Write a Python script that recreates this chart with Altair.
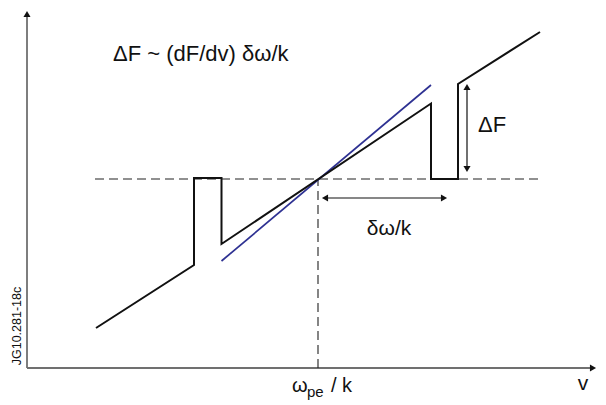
import altair as alt
import pandas as pd

# diagram units: v measured from the vertical axis, F from the horizontal axis
black_v = [69, 167, 167, 194.5, 194.5, 404, 404, 431, 431, 513]
black_F = [40, 103, 190, 190, 124, 264.5, 189, 189, 284, 336]

blue_v = [194.5, 404]
blue_F = [107, 283]

level_F = 189          # dashed plateau level
centre_v = 291         # omega_pe / k
dash_h_v = [68, 516]
dash_v_F = [0, 189]

# axes (line end, arrow head centre)
x_axis_v = [0, 566]
y_axis_F = [0, 354]

# double arrows
dF_v = 440
dF_F = [281, 199]
dw_F = 170
dw_v = [298, 417]

FONT = "Liberation Sans"
X_DOM = [-19, 571]
Y_DOM = [-37, 360]


def enc(v="v", F="F"):
    return dict(
        x=alt.X(f"{v}:Q", scale=alt.Scale(domain=X_DOM, nice=False, zero=False), axis=None),
        y=alt.Y(f"{F}:Q", scale=alt.Scale(domain=Y_DOM, nice=False, zero=False), axis=None),
    )


black = pd.DataFrame({"v": black_v, "F": black_F, "i": range(len(black_v))})
blue = pd.DataFrame({"v": blue_v, "F": blue_F})
dash_h = pd.DataFrame({"v": dash_h_v, "F": [level_F, level_F]})
dash_v = pd.DataFrame({"v": [centre_v, centre_v], "F": dash_v_F})
x_axis = pd.DataFrame({"v": x_axis_v, "F": [0, 0]})
y_axis = pd.DataFrame({"v": [0, 0], "F": y_axis_F})
dF_line = pd.DataFrame({"v": [dF_v, dF_v], "F": dF_F})
dw_line = pd.DataFrame({"v": dw_v, "F": [dw_F, dw_F]})

heads = pd.DataFrame({
    "v": [x_axis_v[1], 0, dF_v, dF_v, dw_v[0], dw_v[1]],
    "F": [0, y_axis_F[1], dF_F[0], dF_F[1], dw_F, dw_F],
    "shape": ["triangle-right", "triangle-up", "triangle-up", "triangle-down",
              "triangle-left", "triangle-right"],
})

layers = []

# axes
layers.append(alt.Chart(x_axis).mark_line(color="#707070", strokeWidth=1.8).encode(**enc()))
layers.append(alt.Chart(y_axis).mark_line(color="#707070", strokeWidth=1.8).encode(**enc()))

# dashed guides
layers.append(alt.Chart(dash_h).mark_line(color="#222222", strokeWidth=1.1, strokeDash=[9, 5]).encode(**enc()))
layers.append(alt.Chart(dash_v).mark_line(color="#222222", strokeWidth=1.1, strokeDash=[9, 5]).encode(**enc()))

# curves
layers.append(alt.Chart(blue).mark_line(color="#2e3192", strokeWidth=1.7).encode(**enc()))
layers.append(alt.Chart(black).mark_line(color="#111111", strokeWidth=2, strokeJoin="miter").encode(
    order=alt.Order("i:Q"), **enc()))

# arrows
layers.append(alt.Chart(dF_line).mark_line(color="#111111", strokeWidth=1.2).encode(**enc()))
layers.append(alt.Chart(dw_line).mark_line(color="#111111", strokeWidth=1.2).encode(**enc()))
layers.append(alt.Chart(heads).mark_point(filled=True, color="#111111", size=50, opacity=1).encode(
    shape=alt.Shape("shape:N", scale=None), **enc()))


def label(txt, v, F, size, align="left", baseline="middle", angle=0):
    df = pd.DataFrame({"v": [v], "F": [F], "t": [txt]})
    return alt.Chart(df).mark_text(
        align=align, baseline=baseline, fontSize=size, font=FONT, color="#111111", angle=angle
    ).encode(text="t:N", **enc())


layers.append(label("ΔF ~ (dF/dv) δω/k", 86, 314, 22))
layers.append(label("ΔF", 451, 243, 22))
layers.append(label("δω/k", 362, 139, 21, align="center"))
layers.append(label("ω", 265, -24, 20, baseline="alphabetic"))
layers.append(label("pe", 280, -29, 15, baseline="alphabetic"))
layers.append(label("/ k", 304, -24, 20, baseline="alphabetic"))
layers.append(label("v", 556, -22, 21, align="center", baseline="alphabetic"))
layers.append(label("JG10.281-18c", -10, 42, 12.5, align="center", angle=270))

chart = alt.layer(*layers).properties(
    width=590, height=397, padding=0, autosize="none"
).configure_view(stroke=None)

chart.save("out.html", embed_options={"renderer": "svg", "actions": False})
